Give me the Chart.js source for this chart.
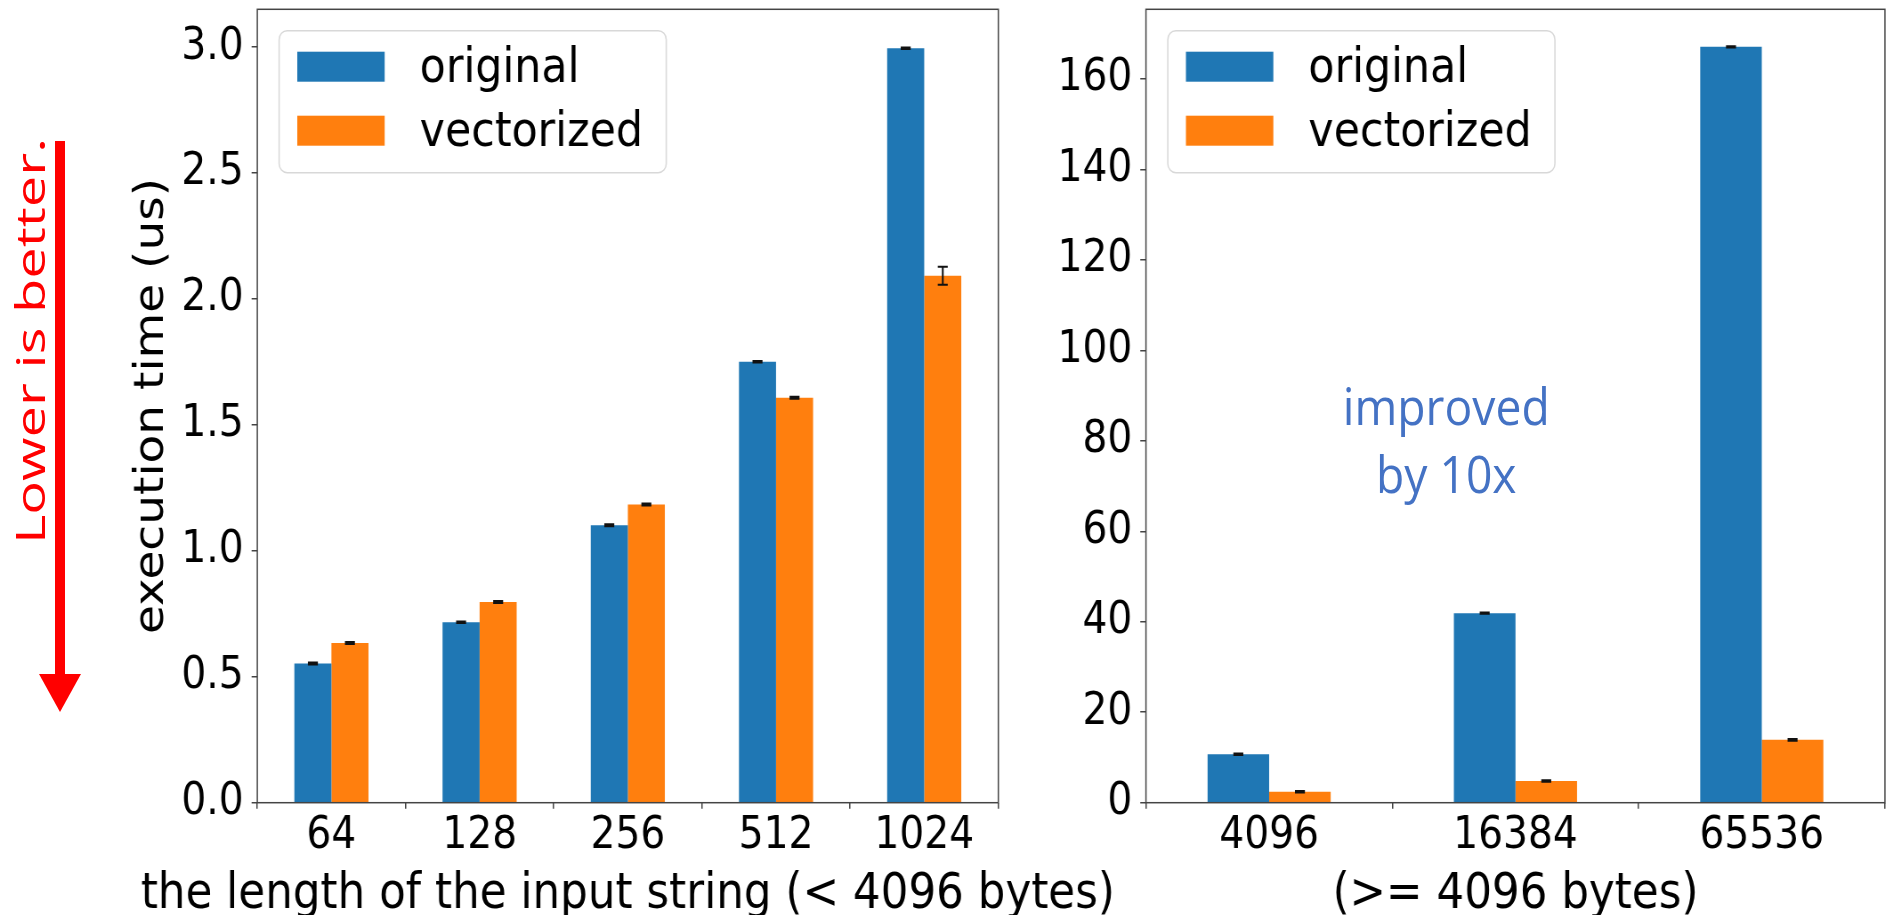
<!DOCTYPE html>
<html>
<head>
<meta charset="utf-8">
<script src="https://cdn.jsdelivr.net/npm/chart.js@4.4.1/dist/chart.umd.min.js"></script>
<style>
  html, body { margin: 0; padding: 0; background: #fff; overflow: hidden; }
  /* the reference image is squeezed horizontally, so draw wide and squeeze */
  #wrap { position: absolute; left: 0; top: 0; width: 2121px; height: 915px; transform: scaleX(0.89); transform-origin: 0 0; }
  #wrap canvas { position: absolute; top: 0; }
  #note { position: absolute; left: 1475px; top: 371px; width: 300px; text-align: center; color: #4472c4; font: 52px/67.7px "Open Sans"; }
  #arrow { position: absolute; left: 0; top: 0; }
</style>
</head>
<body>
<div id="wrap">
  <canvas id="leftChart" width="1300" height="915" style="left:0"></canvas>
  <canvas id="rightChart" width="971" height="915" style="left:1150px"></canvas>
  <div id="note">improved<br>by 10x</div>
</div>
<svg id="arrow" width="120" height="915">
  <line x1="60" y1="141" x2="60" y2="676" stroke="#ff0000" stroke-width="10"/>
  <polygon points="39,674 81,674 60,712" fill="#ff0000"/>
  <text transform="translate(45,341) rotate(-90)" text-anchor="middle" font-family="Open Sans" font-size="40" fill="#ff0000" textLength="406" lengthAdjust="spacingAndGlyphs">Lower is better.</text>
</svg>
<script>
const seriesNames = ['original', 'vectorized'];
const seriesColors = ['#1f77b4', '#ff7f0e'];

// small inputs (< 4096 bytes)
const leftLabels = ['64', '128', '256', '512', '1024'];
const leftOriginal = [0.553, 0.716, 1.102, 1.751, 2.995];
const leftVectorized = [0.634, 0.797, 1.184, 1.608, 2.092];
const leftOriginalErr = [0.004, 0.003, 0.004, 0.003, 0.003];
const leftVectorizedErr = [0.004, 0.004, 0.004, 0.004, 0.036];

// large inputs (>= 4096 bytes)
const rightLabels = ['4096', '16384', '65536'];
const rightOriginal = [10.7, 41.9, 167.1];
const rightVectorized = [2.43, 4.8, 13.9];
const rightOriginalErr = [0.15, 0.15, 0.15];
const rightVectorizedErr = [0.15, 0.15, 0.2];

const FONT = 'DejaVu Sans';

const errorBars = {
  id: 'errorBars',
  afterDatasetsDraw(chart) {
    const ctx = chart.ctx;
    const y = chart.scales.y;
    ctx.save();
    ctx.strokeStyle = '#111';
    ctx.lineWidth = 2;
    chart.data.datasets.forEach((ds, i) => {
      chart.getDatasetMeta(i).data.forEach((bar, j) => {
        const v = ds.data[j], e = ds.errors[j];
        const top = y.getPixelForValue(v + e), bot = y.getPixelForValue(v - e);
        ctx.beginPath();
        ctx.moveTo(bar.x, top); ctx.lineTo(bar.x, bot);
        ctx.moveTo(bar.x - 5.6, top); ctx.lineTo(bar.x + 5.6, top);
        ctx.moveTo(bar.x - 5.6, bot); ctx.lineTo(bar.x + 5.6, bot);
        ctx.stroke();
      });
    });
    ctx.restore();
  }
};

const frame = {
  id: 'frame',
  afterDatasetsDraw(chart) {
    const {ctx, chartArea: a} = chart;
    ctx.save();
    ctx.strokeStyle = '#444';
    ctx.lineWidth = 1.5;
    ctx.strokeRect(a.left, a.top, a.right - a.left, a.bottom - a.top);
    ctx.restore();
  }
};

// matplotlib style legend in the upper left corner
const boxLegend = {
  id: 'boxLegend',
  afterDraw(chart) {
    const {ctx, chartArea: a} = chart;
    const x0 = a.left + 24.5, y0 = a.top + 21.4;
    ctx.save();
    ctx.beginPath();
    ctx.roundRect(x0, y0, 435, 142, 9);
    ctx.fillStyle = 'rgba(255,255,255,0.8)';
    ctx.fill();
    ctx.strokeStyle = '#d8d8d8';
    ctx.lineWidth = 1.5;
    ctx.stroke();
    ctx.font = '48px "' + FONT + '"';
    ctx.textBaseline = 'alphabetic';
    chart.data.datasets.forEach((ds, i) => {
      ctx.fillStyle = ds.backgroundColor;
      ctx.fillRect(x0 + 20.4, a.top + 42.4 + i * 64, 98.2, 30);
      ctx.fillStyle = '#000';
      ctx.fillText(ds.label, x0 + 158, a.top + 72.4 + i * 64.3);
    });
    ctx.restore();
  }
};

// x axis title, drawn by hand so Chart.js does not squeeze it to the axis width
const xTitle = {
  id: 'xTitle',
  afterDraw(chart, args, opts) {
    const {ctx, chartArea: a} = chart;
    ctx.save();
    ctx.font = '49px "' + FONT + '"';
    ctx.textAlign = 'center';
    ctx.textBaseline = 'alphabetic';
    ctx.fillStyle = '#000';
    ctx.fillText(opts.text, (a.left + a.right) / 2, opts.baseline);
    ctx.restore();
  }
};

function makeChart(id, labels, orig, vect, origErr, vectErr, o) {
  return new Chart(document.getElementById(id), {
    type: 'bar',
    data: {
      labels: labels,
      datasets: [
        { label: seriesNames[0], data: orig, errors: origErr, backgroundColor: seriesColors[0],
          borderWidth: 0, categoryPercentage: 0.5, barPercentage: 1.0 },
        { label: seriesNames[1], data: vect, errors: vectErr, backgroundColor: seriesColors[1],
          borderWidth: 0, categoryPercentage: 0.5, barPercentage: 1.0 }
      ]
    },
    options: {
      responsive: false,
      animation: false,
      devicePixelRatio: 1,
      layout: { padding: { left: 0, top: 9.3, right: o.padRight, bottom: 0 } },
      plugins: {
        legend: { display: false },
        tooltip: { enabled: false },
        xTitle: { text: o.xTitle, baseline: 908 }
      },
      scales: {
        x: {
          grid: { drawOnChartArea: false, drawTicks: true, tickLength: 6, color: '#444', lineWidth: 1.5 },
          border: { display: false },
          ticks: { color: '#000', padding: 1, font: { family: FONT, size: 44 } },
          afterFit(s) { s.height = 112.3; s.paddingLeft = 0; s.paddingRight = 0; }
        },
        y: {
          min: 0,
          max: o.yMax,
          grid: { drawOnChartArea: false, drawTicks: true, tickLength: 6.4, color: '#444', lineWidth: 1.5 },
          border: { display: false },
          ticks: { stepSize: o.step, includeBounds: false, color: '#000', padding: 9,
                   font: { family: FONT, size: 44 }, callback: o.fmt },
          title: { display: !!o.yTitle, text: o.yTitle || '', color: '#000',
                   font: { family: FONT, size: 47 }, padding: { top: 142.6, bottom: 0 } },
          afterFit(s) { s.width = o.yWidth; s.paddingTop = 0; s.paddingBottom = 0; }
        }
      }
    },
    plugins: [errorBars, frame, boxLegend, xTitle]
  });
}

makeChart('leftChart', leftLabels, leftOriginal, leftVectorized, leftOriginalErr, leftVectorizedErr, {
  padRight: 178.3, yWidth: 289.1, yMax: 3.15, step: 0.5, fmt: v => v.toFixed(1),
  xTitle: 'the length of the input string (< 4096 bytes)', yTitle: 'execution time (us)'
});

makeChart('rightChart', rightLabels, rightOriginal, rightVectorized, rightOriginalErr, rightVectorizedErr, {
  padRight: 3.1, yWidth: 137.6, yMax: 175.4, step: 20, fmt: v => v,
  xTitle: '(>= 4096 bytes)'
});
</script>
</body>
</html>
